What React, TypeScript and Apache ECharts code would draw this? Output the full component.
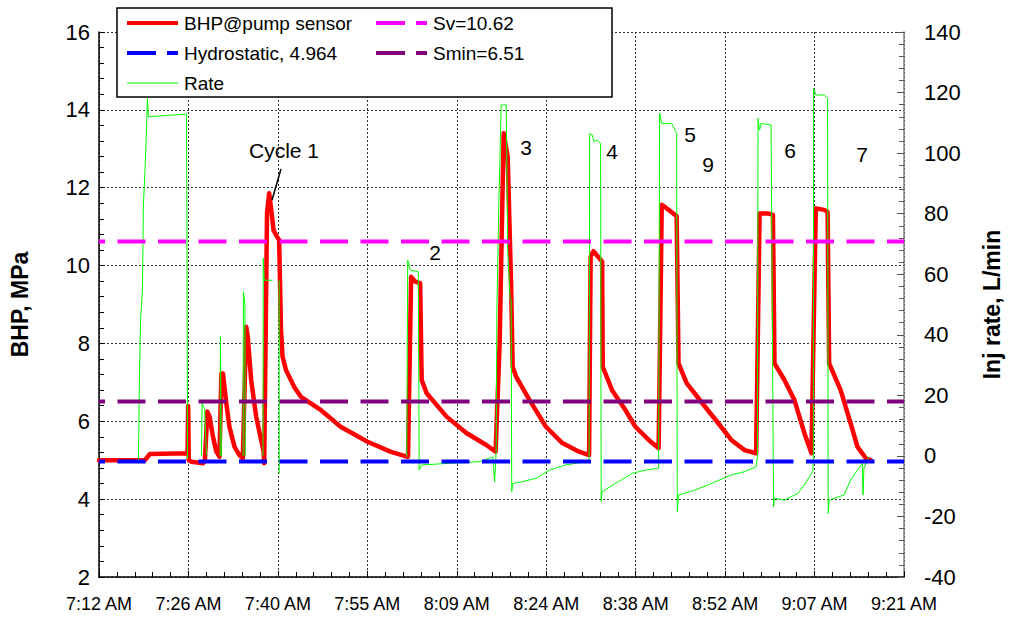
import React, { useEffect, useRef } from "react";
import * as echarts from "echarts";

// Time axis: minutes elapsed after 7:12 AM (432 min after midnight)
const START_MIN = 432;
const X_MAX = 129.6;
const X_STEP = 14.4;

// BHP @ pump sensor (MPa)
const bhpTime = [
  0, 7.4, 8.2, 14.25, 14.35, 14.45, 14.9, 16.75, 17.05, 17.45, 17.8, 18.35, 18.9, 19.4,
  19.7, 19.95, 20.5, 21.0, 21.8, 22.6, 23.15, 23.7, 23.95, 24.5, 25.3, 26.1, 26.5, 26.6,
  26.9, 27.05, 27.4, 27.8, 28.1, 28.65, 29.0, 29.3, 29.55, 30.1, 31.4, 32.5, 35.7, 38.9,
  43.15, 46.9, 49.55, 49.75, 50.25, 50.9, 51.7, 51.95, 52.75, 55.95, 59.15, 62.35, 63.85,
  64.5, 65.15, 65.8, 66.35, 66.6, 67.15, 69.3, 71.95, 74.6, 77.3, 78.9, 79.15, 79.6, 81.0,
  81.1, 82.6, 84.75, 86.35, 88.5, 90.1, 90.6, 91.15, 93.0, 93.3, 94.6, 97.55, 99.7, 101.8,
  103.95, 105.8, 106.35, 107.7, 108.5, 108.75, 110.35, 111.95, 113.55, 114.7, 115.4,
  116.75, 117.3, 117.55, 119.4, 121.0, 122.1, 123.45, 124.25,
];
const bhpValue = [
  5.0, 5.0, 5.16, 5.18, 6.39, 5.0, 4.96, 4.92, 5.0, 6.25, 6.12, 5.6, 5.22, 5.09,
  7.23, 7.23, 6.46, 5.86, 5.35, 5.13, 5.05, 8.43, 8.17, 7.06, 6.12, 5.52, 5.22, 4.92,
  9.2, 11.35, 11.86, 11.34, 10.91, 10.74, 10.66, 8.35, 7.66, 7.32, 6.89, 6.63, 6.29, 5.86,
  5.48, 5.22, 5.09, 5.09, 9.71, 9.59, 9.55, 7.06, 6.72, 6.12, 5.7, 5.39, 5.22,
  8.0, 13.4, 12.8, 9.46, 7.4, 7.15, 6.55, 5.86, 5.44, 5.22, 5.13, 10.23, 10.37, 10.1,
  7.4, 6.8, 6.29, 5.86, 5.52, 5.31, 11.56, 11.5, 11.27, 7.49, 6.98, 6.38, 5.95, 5.52,
  5.26, 5.18, 11.34, 11.34, 11.3, 7.49, 7.06, 6.55, 5.7, 5.18, 11.47,
  11.43, 11.38, 7.49, 6.8, 5.95, 5.35, 5.05, 5.0,
];

// Injection rate (L/min); null = no record
const rateTime = [
  6.35, 6.5, 6.7, 7.0, 7.15, 7.4, 7.7, 7.8, 7.95, 14.1, 14.2, 14.25, 14.3,
  16.5, 16.6, 16.75, 17.0, 17.3, 17.35,
  19.5, 19.55, 19.7, 19.75,
  23.2, 23.25, 23.5, 23.55, 23.6,
  26.4, 26.45, 26.6, 27.95, 27.96,
  29.0, 29.02, 29.05,
  49.55, 49.7, 50.1, 51.4, 51.55, 51.95, 55.95, 61.3, 63.4, 63.7, 63.95, 64.05, 64.35,
  64.75, 65.55, 65.65, 65.8, 66.2, 66.35, 66.45, 66.6, 68.2, 70.35, 72.5, 75.15, 78.35,
  78.9, 79.0, 79.4, 79.7, 80.2, 80.75, 80.85, 81.0, 83.15, 85.8, 87.95, 90.1, 90.25,
  90.6, 92.2, 93.0, 93.1, 93.3, 95.95, 98.6, 101.8, 103.95, 105.8, 106.0, 106.1, 106.35,
  106.6, 108.2, 108.6, 108.75, 110.35, 112.5, 113.55, 114.9, 115.0, 115.05, 115.4, 116.75,
  117.3, 117.4, 117.55, 119.95, 121.0, 122.1, 122.9, 123.0, 123.15, 123.7, 123.95,
];
const rateValue = [
  -2.5, 25, 45.4, 54.8, 82.9, 93.9, 110.9, 118, 112, 112.9, 112.9, -1, null,
  0, 18.4, 16.2, 15.7, 0.3, null,
  0, 39.4, 0, null,
  0, 54.2, 49.8, 0, null,
  0, 65.3, 58, 58, null,
  58, -5.8, null,
  -0.3, 64.7, 61.4, 60.8, -4.7, -3, -2.5, -1.9, -0.3, -8.5, 1.9, 47, 81.2,
  115.9, 115.9, 98.8, 68, 51.5, 51.5, -11.8, -9.1, -8.5, -7.4, -4.7, -3, -1.9,
  -1.4, 106.5, 106, 103.8, 104.3, 103.2, -15.1, -11.8, -9.1, -5.8, -4.7, -4.1, 113.2,
  109.8, 109.8, 106.5, -18.4, -12.9, -11.3, -9.1, -6.3, -5.2, -3.6, -0.3, 111.5, 107.6,
  109.8, 109.3, -16.8, -14, -14.6, -12.4, -9.6, -5.2, -2.5, 121.4, 119.2, 119.2,
  118.1, -19, -14.6, -12.9, -8, -4.7, -2.5, -12.9, -4.1, -1.4, -0.3,
];

// Reference levels (MPa)
const hydrostatic = 4.964;
const svLevel = 10.62;
const sminLevel = 6.51;

// Axis ranges
const bhpAxis = { min: 2, max: 16, interval: 2 };
const rateAxis = { min: -40, max: 140, interval: 20 };

// Legend entries
const legendNames = ["BHP@pump sensor", "Hydrostatic, 4.964", "Rate", "Sv=10.62", "Smin=6.51"];
const legendColors = ["#ff0000", "#0000ff", "#00ff00", "#ff00ff", "#800080"];
const legendDashed = [false, true, false, true, true];
const legendWidths = [4, 4, 1, 4, 4];
const legendCol = [0, 0, 0, 1, 1];
const legendRow = [0, 1, 2, 0, 1];

// Cycle labels
const cycleLabels = [
  { text: "Cycle 1", x: 284, y: 150 },
  { text: "2", x: 435, y: 252 },
  { text: "3", x: 526, y: 147 },
  { text: "4", x: 612, y: 151 },
  { text: "5", x: 690, y: 134 },
  { text: "9", x: 708, y: 164 },
  { text: "6", x: 790, y: 150 },
  { text: "7", x: 862, y: 154 },
];

const FONT = "'Liberation Sans', Arial, sans-serif";

function fmtTime(t: number): string {
  const c = START_MIN + t + 1e-6;
  const h = Math.floor(c / 60);
  const m = Math.floor(c % 60);
  const ap = h >= 12 ? "PM" : "AM";
  const hh = h > 12 ? h - 12 : h;
  return `${hh}:${String(m).padStart(2, "0")} ${ap}`;
}

const pairs = (ts: number[], vs: (number | null)[]) => ts.map((t, i) => [t, vs[i]]);
const level = (v: number) => [
  [0, v],
  [X_MAX, v],
];

export default function App() {
  const ref = useRef<HTMLDivElement>(null);
  useEffect(() => {
    if (!ref.current) return;
    const chart = echarts.init(ref.current, null, { renderer: "svg" });
    const dash = [28, 12.5];
    const colX = [127, 376];
    const rowY = [23, 53, 83];
    const legendEls: any[] = [];
    legendNames.forEach((name, i) => {
      const x = colX[legendCol[i]];
      const y = rowY[legendRow[i]];
      legendEls.push({
        type: "line",
        z: 10,
        shape: { x1: x, y1: y, x2: x + 51, y2: y },
        style: {
          stroke: legendColors[i],
          lineWidth: legendWidths[i],
          lineDash: legendDashed[i] ? [29, 11] : null,
        },
      });
      legendEls.push({
        type: "text",
        z: 10,
        x: x + 57,
        y,
        style: {
          text: name,
          fontSize: 19,
          fontFamily: FONT,
          fill: "#000",
          align: "left",
          verticalAlign: "middle",
        },
      });
    });
    const option: any = {
      animation: false,
      backgroundColor: "#ffffff",
      textStyle: { fontFamily: FONT },
      grid: { left: 97, right: 103, top: 32, bottom: 43 },
      xAxis: {
        type: "value",
        min: 0,
        max: X_MAX,
        interval: X_STEP,
        axisLine: { onZero: false, lineStyle: { color: "#000", width: 1.5 } },
        axisTick: { inside: true, length: 6, lineStyle: { color: "#000" } },
        minorTick: { show: true, splitNumber: 5, length: 5, lineStyle: { color: "#000" } },
        axisLabel: {
          formatter: (v: number) => fmtTime(v),
          color: "#000",
          fontSize: 18,
          fontFamily: FONT,
          margin: 18,
        },
        splitLine: { show: true, lineStyle: { color: "#333", type: [2, 2], width: 1 } },
      },
      yAxis: [
        {
          type: "value",
          ...bhpAxis,
          name: "BHP, MPa",
          nameLocation: "middle",
          nameGap: 68,
          nameTextStyle: { fontSize: 23, fontWeight: "bold", color: "#000", fontFamily: FONT },
          axisLine: { show: true, onZero: false, lineStyle: { color: "#000", width: 1.5 } },
          axisTick: { show: true, inside: true, length: 6, lineStyle: { color: "#000" } },
          minorTick: { show: true, splitNumber: 5, length: 5, lineStyle: { color: "#000" } },
          axisLabel: { color: "#000", fontSize: 22, fontFamily: FONT, margin: 9 },
          splitLine: { show: true, lineStyle: { color: "#333", type: [2, 2], width: 1 } },
        },
        {
          type: "value",
          ...rateAxis,
          position: "right",
          name: "Inj rate, L/min",
          nameLocation: "middle",
          nameGap: 76,
          nameTextStyle: { fontSize: 23, fontWeight: "bold", color: "#000", fontFamily: FONT },
          axisLine: { show: true, onZero: false, lineStyle: { color: "#808080", width: 1.5 } },
          axisTick: { show: true, inside: true, length: 7, lineStyle: { color: "#555" } },
          minorTick: { show: true, splitNumber: 5, length: 5, lineStyle: { color: "#555" } },
          axisLabel: { color: "#000", fontSize: 22, fontFamily: FONT, margin: 20 },
          splitLine: { show: false },
        },
      ],
      graphic: {
        elements: [
          {
            type: "rect",
            z: 5,
            shape: { x: 117, y: 8, width: 495, height: 89 },
            style: { fill: "#fff", stroke: "#000", lineWidth: 1.5 },
          },
          ...legendEls,
          {
            type: "line",
            z: 10,
            shape: { x1: 281, y1: 169, x2: 272, y2: 200 },
            style: { stroke: "#000", lineWidth: 1.5 },
          },
          ...cycleLabels.map((c) => ({
            type: "text",
            z: 10,
            x: c.x,
            y: c.y,
            style: {
              text: c.text,
              fontSize: 21,
              fontFamily: FONT,
              fill: "#000",
              align: "center",
              verticalAlign: "middle",
            },
          })),
        ],
      },
      series: [
        {
          name: "BHP@pump sensor",
          type: "line",
          yAxisIndex: 0,
          symbol: "none",
          data: pairs(bhpTime, bhpValue),
          lineStyle: { color: "#ff0000", width: 4.5, join: "round", cap: "round" },
          itemStyle: { color: "#ff0000" },
          z: 2,
        },
        {
          name: "Rate",
          type: "line",
          yAxisIndex: 1,
          symbol: "none",
          connectNulls: false,
          data: pairs(rateTime, rateValue),
          lineStyle: { color: "#00ff00", width: 1 },
          itemStyle: { color: "#00ff00" },
          z: 3,
        },
        {
          name: "Hydrostatic, 4.964",
          type: "line",
          yAxisIndex: 0,
          symbol: "none",
          data: level(hydrostatic),
          lineStyle: { color: "#0000ff", width: 4, type: dash, dashOffset: 21.5 },
          z: 4,
        },
        {
          name: "Sv=10.62",
          type: "line",
          yAxisIndex: 0,
          symbol: "none",
          data: level(svLevel),
          lineStyle: { color: "#ff00ff", width: 4, type: dash, dashOffset: 21.5 },
          z: 4,
        },
        {
          name: "Smin=6.51",
          type: "line",
          yAxisIndex: 0,
          symbol: "none",
          data: level(sminLevel),
          lineStyle: { color: "#800080", width: 4, type: dash, dashOffset: 21.5 },
          z: 4,
        },
      ],
    };
    chart.setOption(option);
    return () => chart.dispose();
  }, []);
  return (
    <div
      ref={ref}
      style={{ position: "fixed", left: 0, top: 0, width: 1011, height: 620, background: "#fff" }}
    />
  );
}
